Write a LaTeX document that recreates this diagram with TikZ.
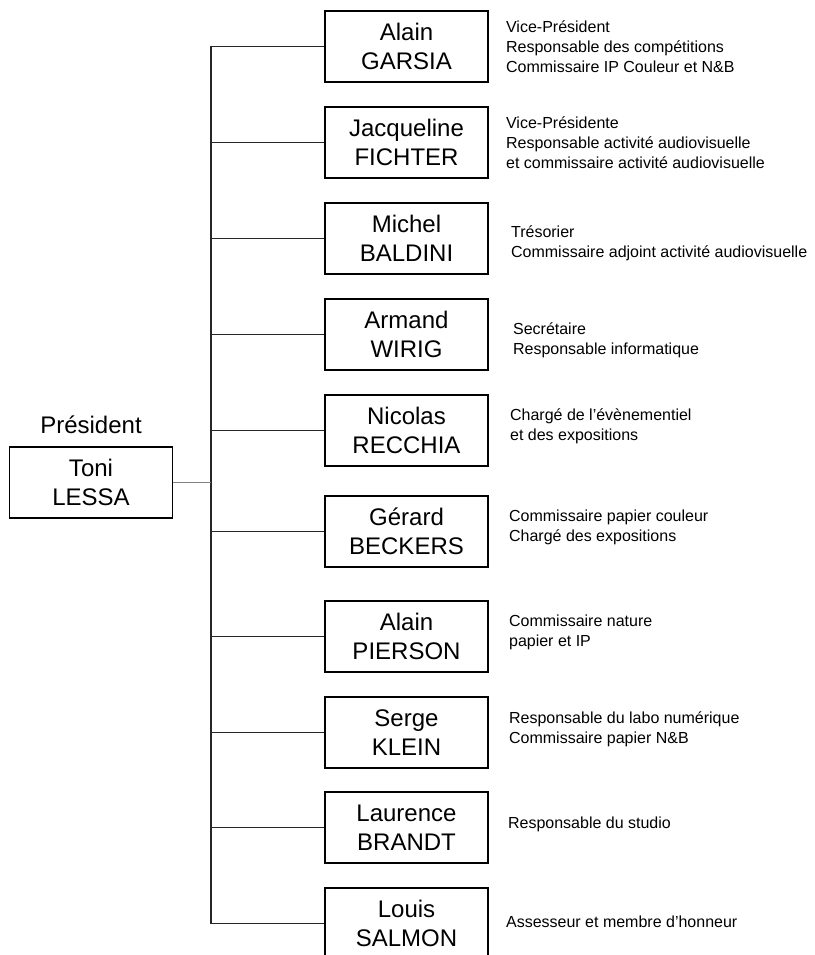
\documentclass[tikz,border=0pt]{standalone}
\usepackage{fontspec}
\setmainfont{Liberation Sans}
\usepackage{tikz}
\usetikzlibrary{positioning}

\begin{document}
\begin{tikzpicture}[x=1pt, y=-1pt,
        person/.style={draw, line width=1.8pt, minimum width=163pt, minimum height=71pt,
            inner sep=0pt, align=center, font=\fontsize{24}{29}\selectfont},
        role/.style={inner sep=0pt, align=left, anchor=west, font=\fontsize{16}{20}\selectfont},
        branch/.style={line width=1.3pt, black!85}]
        \useasboundingbox (0, 0) rectangle (814, 955);

        \node[person, label={[inner sep=0pt, label distance=12pt, font=\fontsize{24}{29}\selectfont]90:Président}] (lessa) at (91, 482.5) {Toni\\LESSA};

        \node[person] (garsia) at (406.5, 46.5) {Alain\\GARSIA};
        \node[person] (fichter) at (406.5, 142.5) {Jacqueline\\FICHTER};
        \node[person] (baldini) at (406.5, 238.5) {Michel\\BALDINI};
        \node[person] (wirig) at (406.5, 334.5) {Armand\\WIRIG};
        \node[person] (recchia) at (406.5, 430.5) {Nicolas\\RECCHIA};
        \node[person] (beckers) at (406.5, 531.5) {Gérard\\BECKERS};
        \node[person] (pierson) at (406.5, 636.5) {Alain\\PIERSON};
        \node[person] (klein) at (406.5, 732.5) {Serge\\KLEIN};
        \node[person] (brandt) at (406.5, 827.5) {Laurence\\BRANDT};
        \node[person] (salmon) at (406.5, 923.5) {Louis\\SALMON};

        \node[role, right=17pt of garsia] (garsia-role) {Vice-Président\\Responsable des compétitions\\Commissaire IP Couleur et N\&B};
        \node[role, right=17pt of fichter] (fichter-role) {Vice-Présidente\\Responsable activité audiovisuelle\\et commissaire activité audiovisuelle};
        \node[role, right=22pt of baldini, yshift=-5pt] (baldini-role) {Trésorier\\Commissaire adjoint activité audiovisuelle};
        \node[role, right=24pt of wirig, yshift=-6pt] (wirig-role) {Secrétaire\\Responsable informatique};
        \node[role, right=21pt of recchia, yshift=4pt] (recchia-role) {Chargé de l'évènementiel\\et des expositions};
        \node[role, right=20pt of beckers, yshift=4pt] (beckers-role) {Commissaire papier couleur\\Chargé des expositions};
        \node[role, right=20pt of pierson, yshift=4pt] (pierson-role) {Commissaire nature\\papier et IP};
        \node[role, right=20pt of klein, yshift=3pt] (klein-role) {Responsable du labo numérique\\Commissaire papier N\&B};
        \node[role, right=19pt of brandt, yshift=3pt] (brandt-role) {Responsable du studio};
        \node[role, right=17pt of salmon, yshift=2pt] (salmon-role) {Assesseur et membre d'honneur};

        \coordinate (trunktop) at (211, 46.5);
        \coordinate (trunkbot) at (211, 923.5);

        \draw[branch] (trunktop) -- (trunkbot)
            (trunktop) -- (garsia.west)
            (trunktop |- fichter) -- (fichter.west)
            (trunktop |- baldini) -- (baldini.west)
            (trunktop |- wirig) -- (wirig.west)
            (trunktop |- recchia) -- (recchia.west)
            (trunktop |- beckers) -- (beckers.west)
            (trunktop |- pierson) -- (pierson.west)
            (trunktop |- klein) -- (klein.west)
            (trunktop |- brandt) -- (brandt.west)
            (trunktop |- salmon) -- (salmon.west);
        \draw[line width=0.8pt, gray] (lessa.east) -- (lessa.east -| trunktop);
    \end{tikzpicture}
\end{document}
